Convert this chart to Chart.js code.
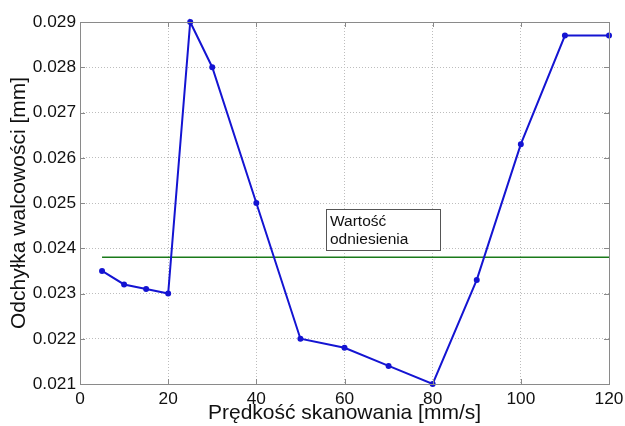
<!DOCTYPE html>
<html>
<head>
<meta charset="utf-8">
<script src="https://cdn.jsdelivr.net/npm/chart.js@4.4.1/dist/chart.umd.min.js"></script>
<style>
  html, body { margin: 0; padding: 0; background: #fff; }
  #wrap { width: 625px; height: 426px; }
</style>
</head>
<body>
<div id="wrap"><canvas id="chartRoll" width="625" height="426"></canvas></div>
<script>
/* Odchyłka walcowości w funkcji prędkości skanowania */
var speeds = [5, 10, 15, 20, 25, 30, 40, 50, 60, 70, 80, 90, 100, 110, 120];
var deviation = [0.0235, 0.0232, 0.0231, 0.0230, 0.0290, 0.0280, 0.0250, 0.0220, 0.0218, 0.0214, 0.0210, 0.0233, 0.0263, 0.0287, 0.0287];
var refSpeeds = [5, 120];
var refValue = [0.0238, 0.0238];
var xTicks = [0, 20, 40, 60, 80, 100, 120];
var yTicks = [0.021, 0.022, 0.023, 0.024, 0.025, 0.026, 0.027, 0.028, 0.029];
var refLabel = ['Wartość', 'odniesienia'];

var FONT = "'Liberation Sans', Arial, Helvetica, sans-serif";

function toXY(xs, ys) {
  return xs.map(function (x, i) { return { x: x, y: ys[i] }; });
}

// ramka, krótkie znaczniki po wewnętrznej stronie wszystkich krawędzi, pole z opisem
var matlabFrame = {
  id: 'matlabFrame',
  afterDatasetsDraw: function (chart) {
    var ctx = chart.ctx, a = chart.chartArea;
    var sx = chart.scales.x, sy = chart.scales.y;
    ctx.save();
    ctx.strokeStyle = '#8a8a8a';
    ctx.lineWidth = 1;
    ctx.beginPath();
    xTicks.forEach(function (v) {
      var px = Math.round(sx.getPixelForValue(v)) + 0.5;
      ctx.moveTo(px, a.bottom); ctx.lineTo(px, a.bottom - 5);
      ctx.moveTo(px, a.top); ctx.lineTo(px, a.top + 5);
    });
    yTicks.forEach(function (v) {
      var py = Math.round(sy.getPixelForValue(v)) + 0.5;
      ctx.moveTo(a.left, py); ctx.lineTo(a.left + 5, py);
      ctx.moveTo(a.right, py); ctx.lineTo(a.right - 5, py);
    });
    ctx.stroke();
    ctx.strokeRect(Math.round(a.left) + 0.5, Math.round(a.top) + 0.5,
                   Math.round(a.right - a.left), Math.round(a.bottom - a.top));

    // pole tekstowe "Wartość odniesienia"
    var x0 = sx.getPixelForValue(55.8), x1 = sx.getPixelForValue(81.7);
    var y0 = sy.getPixelForValue(0.02487), y1 = sy.getPixelForValue(0.02397);
    ctx.fillStyle = '#ffffff';
    ctx.fillRect(x0, y0, x1 - x0, y1 - y0);
    ctx.strokeStyle = '#555555';
    ctx.strokeRect(Math.round(x0) + 0.5, Math.round(y0) + 0.5, Math.round(x1 - x0), Math.round(y1 - y0));
    ctx.fillStyle = '#111111';
    ctx.font = '15.5px ' + FONT;
    ctx.textBaseline = 'middle';
    ctx.textAlign = 'left';
    ctx.fillText(refLabel[0], x0 + 4, y0 + 13);
    ctx.fillText(refLabel[1], x0 + 4, y0 + 31);
    ctx.restore();
  }
};

new Chart(document.getElementById('chartRoll'), {
  type: 'line',
  data: {
    datasets: [
      {
        label: 'Odchyłka',
        data: toXY(speeds, deviation),
        borderColor: '#1414d2',
        backgroundColor: '#1414d2',
        borderWidth: 2,
        pointRadius: 2,
        pointHoverRadius: 2,
        tension: 0,
        clip: 4
      },
      {
        label: 'Wartość odniesienia',
        data: toXY(refSpeeds, refValue),
        borderColor: '#1a7a1a',
        borderWidth: 1.6,
        pointRadius: 0,
        tension: 0
      }
    ]
  },
  options: {
    responsive: false,
    animation: false,
    devicePixelRatio: 1,
    layout: { padding: { top: 22, right: 16, left: 0, bottom: 0 } },
    plugins: { legend: { display: false }, tooltip: { enabled: false } },
    scales: {
      x: {
        type: 'linear',
        min: 0, max: 120,
        afterBuildTicks: function (s) { s.ticks = xTicks.map(function (v) { return { value: v }; }); },
        afterFit: function (s) { s.height = 42; s.paddingLeft = 0; s.paddingRight = 0; },
        grid: { color: '#bdbdbd', drawTicks: false },
        border: { display: false, dash: [1, 2] },
        ticks: { color: '#111', padding: 5, maxRotation: 0, font: { family: FONT, size: 17.3 } },
        title: {
          display: true,
          text: 'Prędkość skanowania [mm/s]',
          color: '#111',
          font: { family: FONT, size: 21 },
          padding: { top: 0, bottom: 0 }
        }
      },
      y: {
        type: 'linear',
        min: 0.021, max: 0.029,
        afterBuildTicks: function (s) { s.ticks = yTicks.map(function (v) { return { value: v }; }); },
        afterFit: function (s) { s.width = 80; s.paddingTop = 0; s.paddingBottom = 0; },
        grid: { color: '#bdbdbd', drawTicks: false },
        border: { display: false, dash: [1, 2] },
        ticks: {
          color: '#111', padding: 4,
          font: { family: FONT, size: 17.3 },
          callback: function (v) { return v.toFixed(3); }
        },
        title: {
          display: true,
          text: 'Odchyłka walcowości [mm]',
          color: '#111',
          font: { family: FONT, size: 21 },
          padding: { top: 7, bottom: 0 }
        }
      }
    }
  },
  plugins: [matlabFrame]
});
</script>
</body>
</html>
